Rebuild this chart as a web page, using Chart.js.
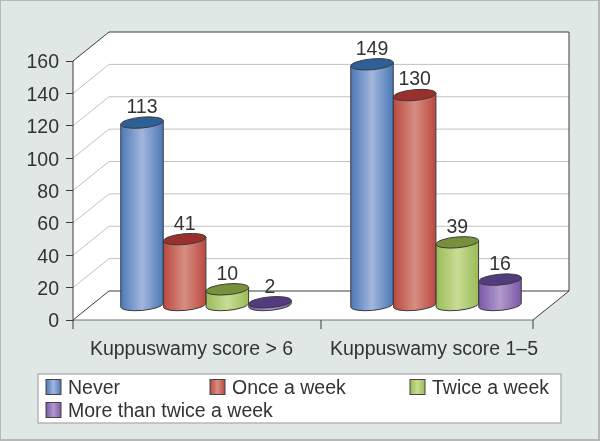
<!DOCTYPE html>
<html>
<head>
<meta charset="utf-8">
<style>
  html, body { margin: 0; padding: 0; background: #dfe8e4; }
  canvas { display: block; }
</style>
<script src="https://cdn.jsdelivr.net/npm/chart.js@4"></script>
</head>
<body>
<canvas id="plotOne" width="600" height="441"></canvas>
<script>
var categories = ['Kuppuswamy score > 6', 'Kuppuswamy score 1\u20135'];
var seriesNames = ['Never', 'Once a week', 'Twice a week', 'More than twice a week'];
var never = [113, 149];
var onceWeek = [41, 130];
var twiceWeek = [10, 39];
var moreThanTwice = [2, 16];

var textColor = '#333';
var fontName = '"Liberation Sans", Arial, sans-serif';

// edge, centre and top-cap colour of each cylinder
var barColors = [
    { edge: '#4a79b8', mid: '#a3b6dc', top: '#2f5f97' },
    { edge: '#bb4840', mid: '#d78e82', top: '#9a302c' },
    { edge: '#9abc58', mid: '#c8dc94', top: '#76913a' },
    { edge: '#7a58a6', mid: '#b09acd', top: '#523b7e' }
];

// how far the back wall sits from the front plane
var depthX = 36;
var depthY = -29;

function cylinder(ctx, bar, c) {
    var cx = bar.x + depthX / 2;
    var rx = bar.width / 2;
    var ry = 5.4;
    var tilt = -0.09;
    var topY = bar.y + depthY / 2;
    var baseY = bar.base + depthY / 2;
    var g = ctx.createLinearGradient(cx - rx, 0, cx + rx, 0);
    g.addColorStop(0, c.edge);
    g.addColorStop(0.5, c.mid);
    g.addColorStop(1, c.edge);

    var lx = rx * Math.cos(tilt), ly = rx * Math.sin(tilt);
    ctx.lineWidth = 1;
    ctx.strokeStyle = '#3a3a3a';
    ctx.fillStyle = g;
    ctx.beginPath();
    ctx.moveTo(cx - lx, topY - ly);
    ctx.lineTo(cx - lx, baseY - ly);
    ctx.ellipse(cx, baseY, rx, ry, tilt, Math.PI, 0, true);
    ctx.lineTo(cx + lx, topY + ly);
    ctx.closePath();
    ctx.fill();
    ctx.stroke();

    ctx.fillStyle = c.top;
    ctx.beginPath();
    ctx.ellipse(cx, topY, rx, ry, tilt, 0, Math.PI * 2);
    ctx.fill();
    ctx.stroke();
}

function line(ctx, x1, y1, x2, y2) {
    ctx.beginPath();
    ctx.moveTo(x1, y1);
    ctx.lineTo(x2, y2);
    ctx.stroke();
}

var box3d = {
    id: 'box3d',
    beforeDraw: function (chart) {
        var ctx = chart.ctx, w = chart.width, h = chart.height;
        ctx.save();
        ctx.fillStyle = '#dfe8e4';
        ctx.fillRect(0, 0, w, h);
        ctx.strokeStyle = '#b4b9b8';
        ctx.lineWidth = 2;
        ctx.strokeRect(0, 0, w - 1, h - 1);
        ctx.restore();
    },
    beforeDatasetsDraw: function (chart) {
        var ctx = chart.ctx, a = chart.chartArea, y = chart.scales.y;
        ctx.save();
        ctx.fillStyle = '#fff';
        ctx.beginPath();
        ctx.moveTo(a.left, a.top);
        ctx.lineTo(a.left + depthX, a.top + depthY);
        ctx.lineTo(a.right + depthX, a.top + depthY);
        ctx.lineTo(a.right + depthX, a.bottom + depthY);
        ctx.lineTo(a.right, a.bottom);
        ctx.lineTo(a.left, a.bottom);
        ctx.closePath();
        ctx.fill();

        // grid on the side and back walls
        ctx.lineWidth = 1;
        ctx.strokeStyle = '#c0c2c2';
        y.ticks.forEach(function (t) {
            if (t.value === 0 || t.value === 160) return;
            var py = y.getPixelForValue(t.value);
            line(ctx, a.left, py, a.left + depthX, py + depthY);
            line(ctx, a.left + depthX, py + depthY, a.right + depthX, py + depthY);
        });

        ctx.strokeStyle = '#3c3c3c';
        line(ctx, a.left, a.top, a.left + depthX, a.top + depthY);
        line(ctx, a.left + depthX, a.top + depthY, a.right + depthX, a.top + depthY);
        line(ctx, a.right + depthX, a.top + depthY, a.right + depthX, a.bottom + depthY);
        line(ctx, a.left, a.bottom, a.left + depthX, a.bottom + depthY);
        line(ctx, a.left + depthX, a.bottom + depthY, a.right + depthX, a.bottom + depthY);
        line(ctx, a.right, a.bottom, a.right + depthX, a.bottom + depthY);
        line(ctx, a.left, a.top, a.left, a.bottom);
        ctx.strokeStyle = '#777';
        line(ctx, a.left, a.bottom, a.right, a.bottom);

        // x axis ticks, the middle one is off centre in the original
        ctx.strokeStyle = '#3c3c3c';
        [a.left, 321, a.right].forEach(function (tx) {
            line(ctx, tx, a.bottom, tx, a.bottom + 9);
        });
        ctx.restore();
    },
    afterDatasetsDraw: function (chart) {
        var ctx = chart.ctx;
        ctx.save();
        chart.data.datasets.forEach(function (ds, i) {
            chart.getDatasetMeta(i).data.forEach(function (bar) {
                cylinder(ctx, bar, barColors[i]);
            });
        });
        ctx.fillStyle = textColor;
        ctx.font = '19.5px ' + fontName;
        ctx.textAlign = 'center';
        ctx.textBaseline = 'middle';
        chart.data.datasets.forEach(function (ds, i) {
            chart.getDatasetMeta(i).data.forEach(function (bar, j) {
                ctx.fillText(ds.data[j], bar.x + depthX / 2, bar.y + depthY / 2 - 15);
            });
        });

        // category labels
        var labelX = [191.5, 434];
        categories.forEach(function (c, j) {
            ctx.fillText(c, labelX[j], 350);
        });

        // legend box
        ctx.fillStyle = '#fff';
        ctx.strokeStyle = '#b4b6b6';
        ctx.lineWidth = 1.5;
        ctx.fillRect(38, 374, 523, 49);
        ctx.strokeRect(38, 374, 523, 49);
        var slots = [[46, 387], [210, 387], [410, 387], [46, 410]];
        ctx.textAlign = 'left';
        seriesNames.forEach(function (name, i) {
            var sx = slots[i][0], sy = slots[i][1];
            var g = ctx.createLinearGradient(sx, 0, sx + 15, 0);
            g.addColorStop(0, barColors[i].edge);
            g.addColorStop(0.5, barColors[i].mid);
            g.addColorStop(1, barColors[i].edge);
            ctx.fillStyle = g;
            ctx.fillRect(sx, sy - 7.5, 15, 15);
            ctx.strokeStyle = '#444';
            ctx.lineWidth = 1;
            ctx.strokeRect(sx, sy - 7.5, 15, 15);
            ctx.fillStyle = textColor;
            ctx.fillText(name, sx + 22, sy + 1.5);
        });
        ctx.restore();
    }
};

var noFill = 'rgba(0,0,0,0)';

new Chart(document.getElementById('plotOne'), {
    type: 'bar',
    data: {
        labels: categories,
        datasets: [
            { label: seriesNames[0], data: never, backgroundColor: noFill, borderColor: noFill },
            { label: seriesNames[1], data: onceWeek, backgroundColor: noFill, borderColor: noFill },
            { label: seriesNames[2], data: twiceWeek, backgroundColor: noFill, borderColor: noFill },
            { label: seriesNames[3], data: moreThanTwice, backgroundColor: noFill, borderColor: noFill }
        ]
    },
    options: {
        responsive: false,
        animation: false,
        datasets: { bar: { categoryPercentage: 0.742, barPercentage: 1 } },
        layout: { padding: { top: 61, right: 67 } },
        plugins: { legend: { display: false }, tooltip: { enabled: false } },
        scales: {
            x: {
                grid: { display: false },
                border: { display: false },
                ticks: { display: false },
                afterFit: function (scale) { scale.height = 121; }
            },
            y: {
                min: 0,
                max: 160,
                ticks: { stepSize: 20, color: textColor, padding: 7, labelOffset: 2, font: { family: fontName, size: 19.5 } },
                grid: { drawOnChartArea: false, tickLength: 7, color: '#3c3c3c' },
                border: { color: '#3c3c3c' },
                afterFit: function (scale) { scale.width = 73; }
            }
        }
    },
    plugins: [box3d]
});
</script>
</body>
</html>
